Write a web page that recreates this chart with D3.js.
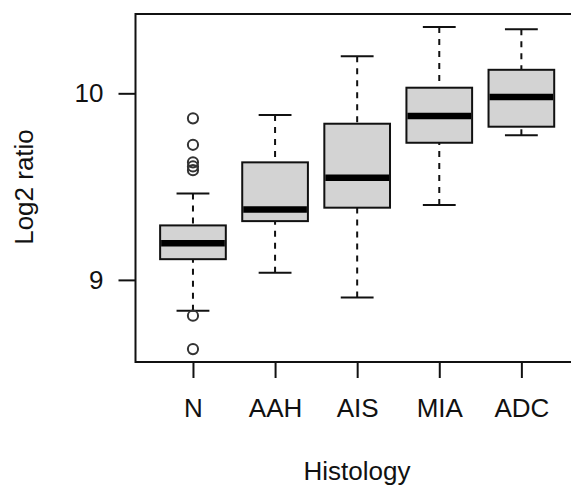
<!DOCTYPE html>
<html>
<head>
<meta charset="utf-8">
<script src="https://cdn.jsdelivr.net/npm/d3@7"></script>
<style>
  body { margin: 0; background: #fff; }
  text { font-family: "Liberation Sans", Arial, sans-serif; fill: #111; }
</style>
</head>
<body>
<svg id="svg1"></svg>
<script>
// data
const categories = ['N', 'AAH', 'AIS', 'MIA', 'ADC'];
const lowerWhisker = [8.835, 9.038, 8.906, 9.402, 9.775];
const q1Values     = [9.111, 9.315, 9.387, 9.735, 9.821];
const medianValues = [9.197, 9.377, 9.547, 9.879, 9.980];
const q3Values     = [9.292, 9.630, 9.837, 10.030, 10.126];
const upperWhisker = [9.463, 9.884, 10.198, 10.356, 10.343];
// outliers only in the N group
const outlierGroup  = ['N', 'N', 'N', 'N', 'N', 'N', 'N'];
const outlierValues = [9.866, 9.724, 9.630, 9.608, 9.588, 8.808, 8.629];
const yTicks = [9, 10];

// layout
const widthChart1 = 571;
const heightChart1 = 487;
const plot = {left: 135.5, top: 14, bottom: 362};

const svgChart1 = d3.select('#svg1')
    .attr('width', widthChart1)
    .attr('height', heightChart1);

const boxData = categories.map(function(c, i) {
    return {
        cat: c,
        idx: i + 1,
        lo: lowerWhisker[i],
        q1: q1Values[i],
        med: medianValues[i],
        q3: q3Values[i],
        hi: upperWhisker[i]
    };
});

// x like R boxplot: 0.5 .. n+0.5 with 4% extension
const n = categories.length;
const xUnit = 82.1;
const x = d3.scaleLinear()
    .domain([0.3, n + 0.7])
    .range([plot.left, plot.left + (n + 0.4) * xUnit]);

// y: data range + 4% each side
const allVals = lowerWhisker.concat(upperWhisker, outlierValues);
const yMin = d3.min(allVals), yMax = d3.max(allVals);
const yPad = (yMax - yMin) * 0.04;
const y = d3.scaleLinear()
    .domain([yMin - yPad, yMax + yPad])
    .range([plot.bottom, plot.top]);

const boxW = 0.8 * xUnit;
const capW = 0.5 * boxW;

// whiskers (dashed, drawn from the staple toward the box)
const g = svgChart1.append('g');
boxData.forEach(function(d) {
    [[d.hi, d.q3], [d.lo, d.q1]].forEach(function(seg) {
        g.append('line')
            .attr('x1', x(d.idx)).attr('x2', x(d.idx))
            .attr('y1', y(seg[0])).attr('y2', y(seg[1]))
            .attr('stroke', '#111').attr('stroke-width', 2)
            .attr('stroke-dasharray', '6,6');
    });
    // staples
    [d.lo, d.hi].forEach(function(v) {
        g.append('line')
            .attr('x1', x(d.idx) - capW / 2).attr('x2', x(d.idx) + capW / 2)
            .attr('y1', y(v)).attr('y2', y(v))
            .attr('stroke', '#111').attr('stroke-width', 2);
    });
});

// boxes
g.selectAll('rect.box')
    .data(boxData)
    .enter()
    .append('rect')
    .attr('class', 'box')
    .attr('x', function(d) { return x(d.idx) - boxW / 2; })
    .attr('y', function(d) { return y(d.q3); })
    .attr('width', boxW)
    .attr('height', function(d) { return y(d.q1) - y(d.q3); })
    .attr('fill', '#d3d3d3')
    .attr('stroke', '#111')
    .attr('stroke-width', 2);

// medians
g.selectAll('line.med')
    .data(boxData)
    .enter()
    .append('line')
    .attr('class', 'med')
    .attr('x1', function(d) { return x(d.idx) - boxW / 2 + 1; })
    .attr('x2', function(d) { return x(d.idx) + boxW / 2 - 1; })
    .attr('y1', function(d) { return y(d.med); })
    .attr('y2', function(d) { return y(d.med); })
    .attr('stroke', '#000')
    .attr('stroke-width', 6.5);

// outliers
g.selectAll('circle')
    .data(outlierValues)
    .enter()
    .append('circle')
    .attr('cx', function(d, i) { return x(categories.indexOf(outlierGroup[i]) + 1); })
    .attr('cy', function(d) { return y(d); })
    .attr('r', 5.1)
    .attr('fill', 'none')
    .attr('stroke', '#333')
    .attr('stroke-width', 2);

// frame
svgChart1.append('rect')
    .attr('x', plot.left)
    .attr('y', plot.top)
    .attr('width', x.range()[1] - plot.left)
    .attr('height', plot.bottom - plot.top)
    .attr('fill', 'none')
    .attr('stroke', '#111')
    .attr('stroke-width', 2);

// Y axis
const yAxis = svgChart1.append('g')
    .attr('transform', 'translate(' + plot.left + ',0)')
    .call(d3.axisLeft(y).tickValues(yTicks).tickSize(17).tickPadding(15).tickFormat(d3.format('d')));
yAxis.select('.domain').remove();
yAxis.selectAll('line').attr('stroke', '#111').attr('stroke-width', 2);
yAxis.selectAll('text').style('font-size', '26px').attr('fill', '#111');

// X axis
const xAxis = svgChart1.append('g')
    .attr('transform', 'translate(0,' + plot.bottom + ')')
    .call(d3.axisBottom(x).tickValues(d3.range(1, n + 1)).tickSize(16).tickPadding(21)
        .tickFormat(function(d) { return categories[d - 1]; }));
xAxis.select('.domain').remove();
xAxis.selectAll('line').attr('stroke', '#111').attr('stroke-width', 2);
xAxis.selectAll('text').style('font-size', '26px').attr('fill', '#111');

// axis titles
svgChart1.append('text')
    .attr('x', 357)
    .attr('y', 480)
    .attr('text-anchor', 'middle')
    .style('font-size', '26px')
    .text('Histology');

svgChart1.append('text')
    .attr('transform', 'translate(33,187)rotate(-90)')
    .attr('text-anchor', 'middle')
    .style('font-size', '26px')
    .text('Log2 ratio');
</script>
</body>
</html>
